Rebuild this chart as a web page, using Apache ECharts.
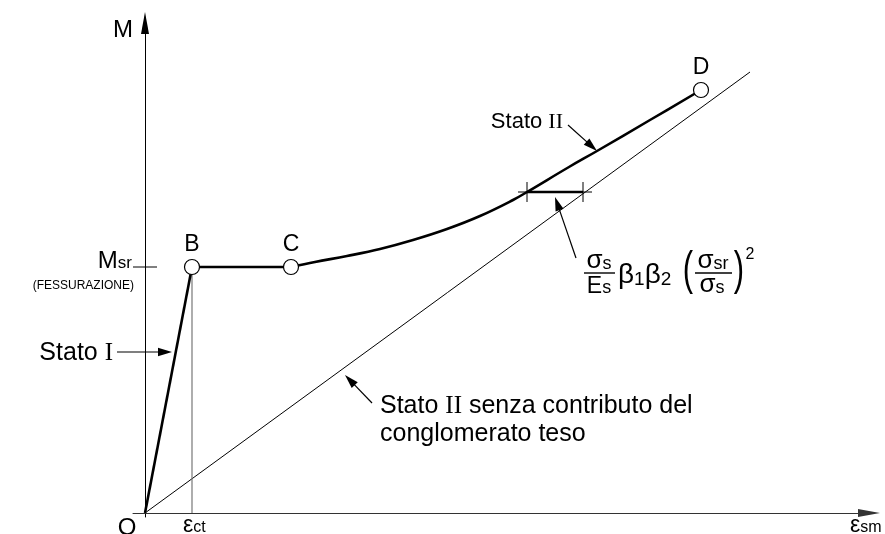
<!DOCTYPE html>
<html><head><meta charset="utf-8">
<script src="https://cdn.jsdelivr.net/npm/echarts@6/dist/echarts.min.js"></script>
<style>html,body{margin:0;padding:0;background:#fff}#c{width:885px;height:534px}</style>
</head><body><div id="c"></div>
<script>
const SANS = "'Liberation Sans', Arial, sans-serif";
const SERIF = "'Liberation Serif', 'Times New Roman', serif";

// schematic axis extents (strain εsm, moment M)
const xRange = [-12, 724];
const yRange = [-4, 490];

// curves
const stateILine = [[0, 0], [47, 246]];
const crackPlateau = [[47, 246], [146, 246]];
const stateIICurve = [[146, 246], [170, 251], [202, 257], [235, 264], [268, 273], [302, 284], [335, 297], [368, 313], [382, 321], [424, 346], [452, 362], [505, 393], [556, 423]];
const bareSteelLine = [[0, 0], [605, 441]];
const ectDrop = [[47, 0], [47, 246]];
const msrTick = [[-12, 246, 12, 246]];

// characteristic points
const pointNames = ['B', 'C', 'D'];
const pointX = [47, 146, 556];
const pointY = [246, 246, 423];

// tension stiffening offset bar
const tensionBar = [[382, 321], [438, 321]];
const barTicks = [[373, 321, 391, 321], [429, 321, 447, 321], [382, 311, 382, 331], [438, 311, 438, 331]];

// annotation arrows [x1, y1, x2(tip), y2(tip)]
const annotationArrows = [[-28, 161, 27, 161], [423, 388, 452, 362], [431, 255, 410, 316], [227, 110, 200, 138]];

const chart = echarts.init(document.getElementById('c'));

function segRender(width, color) {
  return function (params, api) {
    const p1 = api.coord([api.value(0), api.value(1)]);
    const p2 = api.coord([api.value(2), api.value(3)]);
    return { type: 'line', shape: { x1: p1[0], y1: p1[1], x2: p2[0], y2: p2[1] }, style: { stroke: color, lineWidth: width } };
  };
}
function arrowRender(params, api) {
  const p1 = api.coord([api.value(0), api.value(1)]);
  const p2 = api.coord([api.value(2), api.value(3)]);
  const dx = p2[0] - p1[0], dy = p2[1] - p1[1];
  const len = Math.hypot(dx, dy);
  const ux = dx / len, uy = dy / len;
  const L = 14, W = 4.2;
  const bx = p2[0] - ux * L, by = p2[1] - uy * L;
  return {
    type: 'group', children: [
      { type: 'line', shape: { x1: p1[0], y1: p1[1], x2: bx + ux * 3, y2: by + uy * 3 }, style: { stroke: '#000', lineWidth: 1.2 } },
      { type: 'polygon', shape: { points: [[p2[0], p2[1]], [bx - uy * W, by + ux * W], [bx + uy * W, by - ux * W]] }, style: { fill: '#000' } }
    ]
  };
}

const lineBase = { type: 'line', showSymbol: false, symbol: 'none', silent: true, clip: false };
const axisCommon = {
  type: 'value', axisTick: { show: false }, axisLabel: { show: false }, splitLine: { show: false }
};

// rich-text token helpers (baseline-like alignment)
function tok(fs, fam, extra) {
  return Object.assign({ fontSize: fs, fontFamily: fam || SANS, fill: '#000', verticalAlign: 'bottom' }, extra || {});
}
function subTok(fs, raise) {
  return tok(fs, SANS, { padding: [0, 0, raise, 0] });
}

chart.setOption({
  animation: false,
  backgroundColor: '#fff',
  grid: { left: 133, right: 16, top: 23, bottom: 17 },
  xAxis: Object.assign({}, axisCommon, {
    min: xRange[0], max: xRange[1],
    axisLine: { onZero: true, symbol: ['none', 'triangle'], symbolSize: [8, 22], lineStyle: { color: '#333', width: 1 } }
  }),
  yAxis: Object.assign({}, axisCommon, {
    min: yRange[0], max: yRange[1],
    axisLine: { onZero: true, symbol: ['none', 'triangle'], symbolSize: [8, 22], lineStyle: { color: '#000', width: 1 } }
  }),
  series: [
    Object.assign({}, lineBase, { data: bareSteelLine, lineStyle: { color: '#000', width: 1 } }),
    Object.assign({}, lineBase, { data: ectDrop, lineStyle: { color: '#777', width: 1.2 } }),
    Object.assign({}, lineBase, { data: stateILine, lineStyle: { color: '#000', width: 2.6 } }),
    Object.assign({}, lineBase, { data: crackPlateau, lineStyle: { color: '#000', width: 2.6 } }),
    Object.assign({}, lineBase, { data: stateIICurve, smooth: 0.4, lineStyle: { color: '#000', width: 2.6 } }),
    Object.assign({}, lineBase, { data: tensionBar, lineStyle: { color: '#000', width: 2.6 } }),
    { type: 'custom', renderItem: segRender(1, '#000'), data: msrTick, clip: false, silent: true },
    { type: 'custom', renderItem: segRender(1, '#000'), data: barTicks, clip: false, silent: true },
    { type: 'custom', renderItem: arrowRender, data: annotationArrows, clip: false, silent: true },
    {
      type: 'scatter', z: 10, symbol: 'circle', symbolSize: 15, silent: true,
      itemStyle: { color: '#fff', borderColor: '#000', borderWidth: 1.2, opacity: 1 },
      data: pointNames.map((n, i) => ({ name: n, value: [pointX[i], pointY[i]] })),
      label: { show: true, position: 'top', distance: 3, formatter: '{b}', color: '#000', opacity: 1, fontSize: 23, fontFamily: SANS }
    }
  ],
  graphic: [
    { type: 'text', x: 123, y: 30, style: { text: 'M', fontSize: 24, fontFamily: SANS, fill: '#000', align: 'center', verticalAlign: 'middle' } },
    { type: 'text', x: 127, y: 528, style: { text: 'O', fontSize: 24, fontFamily: SANS, fill: '#000', align: 'center', verticalAlign: 'middle' } },
    { type: 'text', x: 183, y: 537, style: { text: '{e|ε}{s|ct}', align: 'left', verticalAlign: 'bottom', rich: { e: tok(23), s: subTok(16, 1) } } },
    { type: 'text', x: 850, y: 537, style: { text: '{e|ε}{s|sm}', align: 'left', verticalAlign: 'bottom', rich: { e: tok(23), s: subTok(16, 1) } } },
    { type: 'text', x: 132, y: 273, style: { text: '{m|M}{s|sr}', align: 'right', verticalAlign: 'bottom', rich: { m: tok(24), s: subTok(17, 1) } } },
    { type: 'text', x: 134, y: 286, style: { text: '(FESSURAZIONE)', fontSize: 12, fontFamily: SANS, fill: '#000', align: 'right', verticalAlign: 'middle' } },
    { type: 'text', x: 113, y: 353, style: { text: '{a|Stato }{b|I}', align: 'right', verticalAlign: 'middle', rich: { a: { fontSize: 25, fontFamily: SANS, fill: '#000' }, b: { fontSize: 25, fontFamily: SERIF, fill: '#000' } } } },
    { type: 'text', x: 563, y: 122, style: { text: '{a|Stato }{b|II}', align: 'right', verticalAlign: 'middle', rich: { a: { fontSize: 22, fontFamily: SANS, fill: '#000' }, b: { fontSize: 22, fontFamily: SERIF, fill: '#000' } } } },
    { type: 'text', x: 380, y: 406, style: { text: '{a|Stato }{b|II}{a| senza contributo del}', align: 'left', verticalAlign: 'middle', rich: { a: { fontSize: 25, fontFamily: SANS, fill: '#000' }, b: { fontSize: 25, fontFamily: SERIF, fill: '#000' } } } },
    { type: 'text', x: 380, y: 434, style: { text: 'conglomerato teso', fontSize: 25, fontFamily: SANS, fill: '#000', align: 'left', verticalAlign: 'middle' } },
    // formula
    { type: 'text', x: 599, y: 274, style: { text: '{g|σ}{s|s}', align: 'center', verticalAlign: 'bottom', rich: { g: tok(26), s: subTok(18, 1) } } },
    { type: 'line', shape: { x1: 584, y1: 273, x2: 615, y2: 273 }, style: { stroke: '#000', lineWidth: 1.4 } },
    { type: 'text', x: 599, y: 298, style: { text: '{g|E}{s|s}', align: 'center', verticalAlign: 'bottom', rich: { g: tok(23), s: subTok(18, 1) } } },
    { type: 'text', x: 618, y: 289, style: { text: '{g|β}{s|1}{g|β}{s|2}', align: 'left', verticalAlign: 'bottom', rich: { g: tok(28), s: tok(19, SANS, { lineHeight: 26 }) } } },
    { type: 'text', x: 688, y: 271, scaleY: 1.5, style: { text: '(', fontSize: 31, fontFamily: SANS, fill: '#000', align: 'center', verticalAlign: 'middle' } },
    { type: 'text', x: 713, y: 274, style: { text: '{g|σ}{s|sr}', align: 'center', verticalAlign: 'bottom', rich: { g: tok(26), s: subTok(18, 1) } } },
    { type: 'line', shape: { x1: 695, y1: 273, x2: 732, y2: 273 }, style: { stroke: '#000', lineWidth: 1.4 } },
    { type: 'text', x: 712, y: 298, style: { text: '{g|σ}{s|s}', align: 'center', verticalAlign: 'bottom', rich: { g: tok(26), s: subTok(18, 1) } } },
    { type: 'text', x: 739, y: 271, scaleY: 1.5, style: { text: ')', fontSize: 31, fontFamily: SANS, fill: '#000', align: 'center', verticalAlign: 'middle' } },
    { type: 'text', x: 750, y: 255, style: { text: '2', fontSize: 16, fontFamily: SANS, fill: '#000', align: 'center', verticalAlign: 'middle' } }
  ]
});
</script>
</body></html>
